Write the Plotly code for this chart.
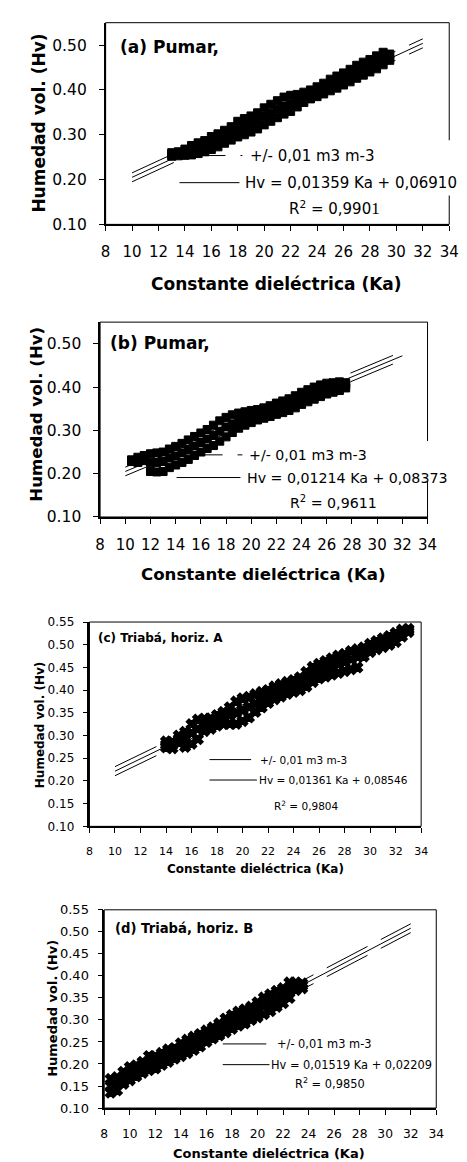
import plotly.graph_objects as go

W, H = 467, 1162

# ---------------- data ----------------
# (a) Pumar
ka_a = [13.0, 13.5, 14.0, 14.5, 15.0, 15.5, 16.0, 16.5, 17.0, 17.5, 18.0, 18.5,
        19.0, 19.5, 20.0, 20.5, 21.0, 21.5, 22.0, 22.5, 23.0, 23.5, 24.0, 24.5,
        25.0, 25.5, 26.0, 26.5, 27.0, 27.5, 28.0, 28.5, 29.0, 29.5]
hv_a_lo = [0.252, 0.253, 0.254, 0.255, 0.258, 0.262, 0.267, 0.273, 0.281, 0.288, 0.295, 0.300,
           0.306, 0.313, 0.322, 0.330, 0.338, 0.346, 0.352, 0.362, 0.372, 0.380, 0.385, 0.391,
           0.398, 0.404, 0.411, 0.418, 0.426, 0.433, 0.440, 0.447, 0.456, 0.466]
hv_a_mid = [0.256, 0.257, 0.262, 0.266, 0.271, 0.276, 0.281, 0.288, 0.296, 0.303, 0.311, 0.318,
            0.325, 0.332, 0.341, 0.348, 0.357, 0.364, 0.369, 0.376, 0.383, 0.390, 0.396, 0.403,
            0.410, 0.417, 0.424, 0.431, 0.439, 0.447, 0.454, 0.460, 0.467, 0.472]
hv_a_hi = [0.260, 0.262, 0.268, 0.276, 0.282, 0.287, 0.296, 0.302, 0.310, 0.318, 0.330, 0.336,
           0.342, 0.349, 0.360, 0.368, 0.376, 0.384, 0.388, 0.390, 0.395, 0.400, 0.407, 0.415,
           0.424, 0.431, 0.438, 0.446, 0.455, 0.462, 0.468, 0.476, 0.484, 0.480]
fit_a = dict(slope=0.01359, icpt=0.06910, ka=[10, 32],
             r2="0,990<span style='font-family:Liberation Serif;font-size:17px'>1</span>")

# (b) Pumar
ka_b = [10.5, 11.0, 11.5, 12.0, 12.5, 13.0, 13.5, 14.0, 14.5, 15.0, 15.5, 16.0,
        16.5, 17.0, 17.5, 18.0, 18.5, 19.0, 19.5, 20.0, 20.5, 21.0, 21.5, 22.0,
        22.5, 23.0, 23.5, 24.0, 24.5, 25.0, 25.5, 26.0, 26.5, 27.0, 27.5]
hv_b_lo = [0.228, 0.226, 0.230, 0.205, 0.204, 0.205, 0.214, 0.220, 0.226, 0.233, 0.242, 0.250,
           0.258, 0.265, 0.275, 0.285, 0.295, 0.305, 0.312, 0.318, 0.324, 0.328, 0.332, 0.337,
           0.341, 0.346, 0.352, 0.360, 0.366, 0.372, 0.378, 0.384, 0.388, 0.392, 0.398]
hv_b_mid = [0.230, 0.232, 0.236, 0.226, 0.226, 0.228, 0.236, 0.241, 0.248, 0.256, 0.264, 0.272,
            0.280, 0.288, 0.298, 0.308, 0.315, 0.321, 0.327, 0.332, 0.336, 0.340, 0.344, 0.349,
            0.354, 0.359, 0.365, 0.372, 0.379, 0.385, 0.390, 0.395, 0.398, 0.401, 0.404]
hv_b_hi = [0.232, 0.238, 0.242, 0.246, 0.248, 0.250, 0.257, 0.263, 0.270, 0.278, 0.286, 0.294,
           0.302, 0.312, 0.322, 0.330, 0.336, 0.340, 0.343, 0.346, 0.348, 0.352, 0.357, 0.363,
           0.368, 0.373, 0.380, 0.388, 0.394, 0.400, 0.405, 0.409, 0.410, 0.412, 0.410]
fit_b = dict(slope=0.01214, icpt=0.08373, ka=[10, 32], r2="0,9611")

# (c) Triabá, horiz. A
ka_c = [14.0, 14.5, 15.0, 15.5, 16.0, 16.5, 17.0, 17.5, 18.0, 18.5, 19.0, 19.5, 20.0,
        20.5, 21.0, 21.5, 22.0, 22.5, 23.0, 23.5, 24.0, 24.5, 25.0, 25.5, 26.0, 26.5,
        27.0, 27.5, 28.0, 28.5, 29.0, 29.5, 30.0, 30.5, 31.0, 31.5, 32.0, 32.5, 33.0]
hv_c_lo = [0.274, 0.272, 0.285, 0.275, 0.282, 0.292, 0.310, 0.315, 0.322, 0.325, 0.326, 0.326, 0.332,
           0.340, 0.352, 0.362, 0.372, 0.380, 0.386, 0.392, 0.396, 0.400, 0.408, 0.418, 0.426, 0.430,
           0.434, 0.438, 0.442, 0.446, 0.450, 0.474, 0.484, 0.490, 0.495, 0.500, 0.506, 0.518, 0.528]
hv_c_mid = [0.280, 0.279, 0.293, 0.292, 0.305, 0.315, 0.323, 0.327, 0.333, 0.339, 0.345, 0.351, 0.357,
            0.363, 0.371, 0.378, 0.385, 0.393, 0.400, 0.405, 0.410, 0.415, 0.424, 0.434, 0.442, 0.447,
            0.452, 0.458, 0.463, 0.468, 0.474, 0.482, 0.491, 0.498, 0.504, 0.509, 0.516, 0.526, 0.532]
hv_c_hi = [0.287, 0.286, 0.300, 0.308, 0.325, 0.335, 0.337, 0.338, 0.345, 0.352, 0.362, 0.375, 0.382,
           0.385, 0.391, 0.396, 0.400, 0.408, 0.413, 0.418, 0.422, 0.428, 0.440, 0.451, 0.458, 0.464,
           0.470, 0.476, 0.480, 0.486, 0.490, 0.494, 0.502, 0.508, 0.514, 0.519, 0.526, 0.533, 0.535]
fit_c = dict(slope=0.01361, icpt=0.08546, ka=[10, 30], r2="0,9804")

# (d) Triabá, horiz. B
ka_d = [8.5, 9.0, 9.5, 10.0, 10.5, 11.0, 11.5, 12.0, 12.5, 13.0, 13.5, 14.0, 14.5, 15.0,
        15.5, 16.0, 16.5, 17.0, 17.5, 18.0, 18.5, 19.0, 19.5, 20.0, 20.5, 21.0, 21.5, 22.0,
        22.5, 23.0, 23.5]
hv_d_lo = [0.135, 0.140, 0.155, 0.163, 0.172, 0.180, 0.186, 0.190, 0.198, 0.205, 0.212, 0.218, 0.225, 0.232,
           0.240, 0.250, 0.258, 0.265, 0.272, 0.280, 0.287, 0.292, 0.300, 0.306, 0.313, 0.320, 0.330, 0.338,
           0.350, 0.368, 0.372]
hv_d_mid = [0.150, 0.155, 0.168, 0.178, 0.184, 0.192, 0.200, 0.204, 0.211, 0.219, 0.224, 0.232, 0.240, 0.247,
            0.254, 0.263, 0.271, 0.279, 0.288, 0.296, 0.304, 0.309, 0.315, 0.323, 0.332, 0.339, 0.348, 0.355,
            0.367, 0.376, 0.378]
hv_d_hi = [0.166, 0.170, 0.182, 0.193, 0.197, 0.205, 0.218, 0.218, 0.225, 0.233, 0.236, 0.247, 0.255, 0.262,
           0.268, 0.276, 0.283, 0.292, 0.303, 0.311, 0.319, 0.324, 0.330, 0.340, 0.351, 0.358, 0.366, 0.372,
           0.385, 0.385, 0.383]
fit_d = dict(slope=0.01519, icpt=0.02209, ka=[8.5, 32], r2="0,9850")

band_half = 0.01  # +/- 0,01 m3 m-3

titles = ["(a) Pumar,", "(b) Pumar,", "(c) Triabá, horiz. A", "(d) Triabá, horiz. B"]
x_title = "Constante dieléctrica (Ka)"
y_title = "Humedad vol. (Hv)"
leg_band = "+/- 0,01 m3 m-3"
x_ticks = list(range(8, 35, 2))
y_ticks_ab = [0.10, 0.20, 0.30, 0.40, 0.50]
y_ticks_cd = [0.10, 0.15, 0.20, 0.25, 0.30, 0.35, 0.40, 0.45, 0.50, 0.55]

data = [
    (ka_a, hv_a_lo, hv_a_mid, hv_a_hi, fit_a, y_ticks_ab),
    (ka_b, hv_b_lo, hv_b_mid, hv_b_hi, fit_b, y_ticks_ab),
    (ka_c, hv_c_lo, hv_c_mid, hv_c_hi, fit_c, y_ticks_cd),
    (ka_d, hv_d_lo, hv_d_mid, hv_d_hi, fit_d, y_ticks_cd),
]

# ---------------- layout / style (pixel geometry) ----------------
FONT = "DejaVu Sans"
style = [
    dict(box=(95.7, 450.7, 7.8, 212.3), ytf=15.5, xtf=15, axf=17, ttl=17, lgf=15,
         ttl_xy=(109, 32), yt_xy=(27, 110), xt_xy=(272, 273),
         row1=142.5, row2=170, s_band=(172, 237), s_fit=(172, 234), txt_x=(243, 237.5), r2_xy=(332, 196),
         gap=(127, 183), sym="square", msize=8, mlw=1, ystand=9),
    dict(box=(90, 428.3, 311.4, 509), ytf=15.5, xtf=15, axf=16.6, ttl=17, lgf=14.2,
         ttl_xy=(98, 333), yt_xy=(24, 405), xt_xy=(259, 567),
         row1=446, row2=469, s_band=(169, 237), s_fit=(169, 235), txt_x=(241.5, 240), r2_xy=(331, 494),
         gap=(432, 473), sym="square", msize=8, mlw=1, ystand=9),
    dict(box=(79, 421.7, 615.5, 822.7), ytf=12, xtf=11, axf=12, ttl=12, lgf=10.5,
         ttl_xy=(86, 632), yt_xy=(27.5, 720.5), xt_xy=(251, 866),
         row1=755, row2=775.7, s_band=(203, 246), s_fit=(203, 252), txt_x=(253, 252), r2_xy=(303, 801.7),
         gap=None, sym="x", msize=9, mlw=1.5, ystand=6),
    dict(box=(94.3, 437.3, 907.3, 1108.3), ytf=13, xtf=12.3, axf=13, ttl=13.2, lgf=11.4,
         ttl_xy=(103, 926), yt_xy=(40, 1007), xt_xy=(265, 1154),
         row1=1043.3, row2=1064.3, s_band=(216.7, 261.7), s_fit=(216.7, 265), txt_x=(270.5, 265), r2_xy=(328, 1083.3),
         gap=None, sym="x", msize=9, mlw=1.5, ystand=6),
]

def PX(x):
    return x / W

def PY(y):
    return 1 - y / H

fig = go.Figure()
shapes = []
annos = []
DASH = "46px,15px"

for i, ((ka, lo, mid, hi, fit, yt), st) in enumerate(zip(data, style)):
    n = "" if i == 0 else str(i + 1)
    xa, ya = "x" + n, "y" + n
    # scatter cloud
    for hv in (lo, mid, hi):
        fig.add_trace(go.Scatter(x=ka, y=hv, mode="markers", xaxis=xa, yaxis=ya,
                                 marker=dict(symbol=st["sym"], size=st["msize"], color="black",
                                             line=dict(width=st["mlw"], color="black")),
                                 showlegend=False, hoverinfo="skip"))
    # fit line and +/- band lines
    k0, k1 = fit["ka"]
    for off, dash in ((band_half, DASH), (0.0, "solid"), (-band_half, DASH)):
        fig.add_trace(go.Scatter(x=[k0, k1],
                                 y=[fit["slope"] * k0 + fit["icpt"] + off, fit["slope"] * k1 + fit["icpt"] + off],
                                 mode="lines", xaxis=xa, yaxis=ya,
                                 line=dict(color="black", width=1, dash=dash),
                                 showlegend=False, hoverinfo="skip"))
    x0, x1, yt0, yb = st["box"]
    axkey = "xaxis" + n
    aykey = "yaxis" + n
    fig.update_layout(**{
        axkey: dict(domain=[PX(x0), PX(x1)], range=[8, 34], anchor=ya, tickvals=x_ticks,
                    ticktext=[str(v) for v in x_ticks], ticks="outside", ticklen=5, tickwidth=1,
                    tickcolor="black", showline=True, linecolor="black", linewidth=2,
                    showgrid=False, zeroline=False, tickangle=0, ticklabelstandoff=8,
                    tickfont=dict(family=FONT, size=st["xtf"], color="black")),
        aykey: dict(domain=[PY(yb), PY(yt0)], range=[0.10, 0.55], anchor=xa, tickvals=yt,
                    ticktext=["%.2f" % v for v in yt], ticks="outside", ticklen=5, tickwidth=1,
                    tickcolor="black", showline=True, linecolor="black", linewidth=1.5,
                    showgrid=False, zeroline=False, ticklabelstandoff=st["ystand"],
                    tickfont=dict(family=FONT, size=st["ytf"], color="black")),
    })
    # plot-area border
    shapes.append(dict(type="rect", xref=xa + " domain", yref=ya + " domain", x0=0, x1=1, y0=0, y1=1,
                       line=dict(color="black", width=1), layer="below"))
    # legend samples
    shapes.append(dict(type="line", xref="paper", yref="paper", x0=PX(st["s_band"][0]), x1=PX(st["s_band"][1]),
                       y0=PY(st["row1"]), y1=PY(st["row1"]), line=dict(color="black", width=1, dash=DASH),
                       layer="below"))
    shapes.append(dict(type="line", xref="paper", yref="paper", x0=PX(st["s_fit"][0]), x1=PX(st["s_fit"][1]),
                       y0=PY(st["row2"]), y1=PY(st["row2"]), line=dict(color="black", width=1),
                       layer="below"))
    if st["gap"]:
        g0, g1 = st["gap"]
        shapes.append(dict(type="rect", xref="paper", yref="paper", x0=PX(x1 - 4), x1=PX(x1 + 4),
                           y0=PY(g1), y1=PY(g0), fillcolor="white", line=dict(width=0), layer="above"))
    # texts
    def txt(t, x, y, size, bold=False, xanchor="left", angle=0):
        annos.append(dict(text=("<b>%s</b>" % t) if bold else t, x=PX(x), y=PY(y), xref="paper", yref="paper",
                          xanchor=xanchor, yanchor="middle", showarrow=False, textangle=angle,
                          font=dict(family=FONT, size=size, color="black")))
    txt(titles[i], st["ttl_xy"][0], st["ttl_xy"][1], st["ttl"], bold=True)
    txt(y_title, st["yt_xy"][0], st["yt_xy"][1], st["axf"], bold=True, xanchor="center", angle=-90)
    txt(x_title, st["xt_xy"][0], st["xt_xy"][1], st["axf"], bold=True, xanchor="center")
    txt(leg_band, st["txt_x"][0], st["row1"], st["lgf"])
    eq = "Hv = %s Ka + %s" % (("%.5f" % fit["slope"]).replace(".", ","), ("%.5f" % fit["icpt"]).replace(".", ","))
    txt(eq, st["txt_x"][1], st["row2"], st["lgf"])
    txt("R<sup>2</sup> = " + fit["r2"], st["r2_xy"][0], st["r2_xy"][1], st["lgf"], xanchor="center")

fig.update_layout(width=W, height=H, margin=dict(l=0, r=0, t=0, b=0),
                  paper_bgcolor="white", plot_bgcolor="rgba(0,0,0,0)",
                  shapes=shapes, annotations=annos, showlegend=False,
                  font=dict(family=FONT, color="black"))
fig.write_html("out.html")
